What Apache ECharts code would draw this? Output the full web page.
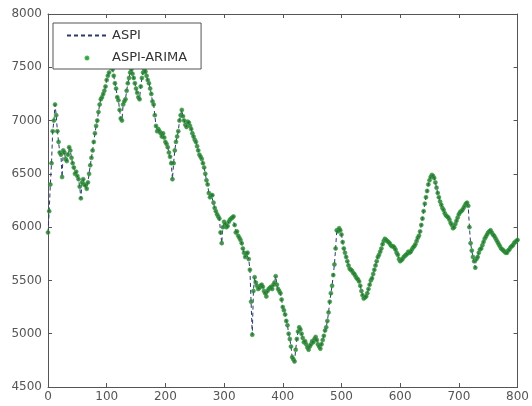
<!DOCTYPE html>
<html>
<head>
<meta charset="utf-8">
<script src="https://cdn.jsdelivr.net/npm/echarts@6/dist/echarts.min.js"></script>
<style>
html,body{margin:0;padding:0;background:#fff;}
#chart{width:532px;height:406px;}
</style>
</head>
<body>
<div id="chart"></div>
<script>
const timeStep = 2;
// ASPI at t = 0, 4, 8, ..., 800
const aspiEven = [
  5950, 6400, 6900, 7150, 6900, 6700, 6470, 6700, 6620, 6750,
  6650, 6560, 6520, 6450, 6270, 6450, 6390, 6420, 6580, 6720,
  6880, 7000, 7150, 7220, 7280, 7380, 7450, 7550, 7420, 7300,
  7190, 7020, 7150, 7200, 7350, 7450, 7440, 7350, 7260, 7200,
  7400, 7480, 7420, 7350, 7250, 7150, 6950, 6920, 6880, 6880,
  6800, 6750, 6660, 6450, 6720, 6850, 7000, 7100, 7000, 6940,
  6980, 6920, 6850, 6800, 6720, 6660, 6600, 6500, 6400, 6280,
  6300, 6180, 6120, 6080, 5850, 6050, 6000, 6050, 6080, 6100,
  5950, 5920, 5880, 5800, 5720, 5760, 5600, 4990, 5530, 5450,
  5430, 5460, 5400, 5350, 5420, 5440, 5460, 5540, 5420, 5380,
  5250, 5180, 5080, 4950, 4780, 4740, 4950, 5060, 5000, 4920,
  4900, 4850, 4900, 4920, 4970, 4900, 4860, 4940, 5030, 5120,
  5300, 5450, 5650, 5970, 5990, 5930, 5800, 5720, 5640, 5600,
  5570, 5540, 5510, 5450, 5360, 5340, 5380, 5460, 5520, 5600,
  5680, 5740, 5800, 5870, 5880, 5860, 5830, 5820, 5790, 5740,
  5680, 5700, 5730, 5750, 5760, 5790, 5820, 5870, 5920, 6020,
  6150, 6280, 6400, 6470, 6480, 6420, 6320, 6240, 6180, 6130,
  6100, 6070, 6020, 6000, 6060, 6120, 6150, 6180, 6220, 6200,
  5850, 5720, 5620, 5720, 5790, 5830, 5890, 5930, 5960, 5950,
  5920, 5880, 5840, 5800, 5780, 5760, 5780, 5810, 5830, 5860,
  5880
];
// ASPI at t = 2, 6, 10, ..., 798
const aspiOdd = [
  6150, 6600, 7000, 7050, 6800, 6680, 6720, 6640, 6680, 6720,
  6600, 6500, 6480, 6380, 6420, 6400, 6360, 6500, 6650, 6800,
  6950, 7080, 7200, 7250, 7320, 7420, 7500, 7480, 7350, 7220,
  7100, 7000, 7180, 7280, 7400, 7480, 7400, 7300, 7220, 7320,
  7450, 7460, 7380, 7300, 7180, 7050, 6900, 6900, 6850, 6840,
  6780, 6700, 6600, 6600, 6800, 6900, 7050, 7040, 6960, 6990,
  6950, 6880, 6820, 6760, 6680, 6640, 6560, 6440, 6320, 6300,
  6230, 6150, 6100, 5950, 6000, 6030, 6010, 6070, 6090, 6020,
  5960, 5900, 5850, 5760, 5750, 5700, 5300, 5400, 5480, 5420,
  5450, 5440, 5380, 5400, 5430, 5420, 5480, 5460, 5400, 5320,
  5220, 5120, 5000, 4880, 4760, 4850, 5020, 5040, 4960, 4930,
  4870, 4880, 4930, 4950, 4940, 4880, 4900, 4980, 5060, 5200,
  5380, 5550, 5800, 5960, 5970, 5860, 5760, 5680, 5610, 5590,
  5560, 5520, 5490, 5400, 5330, 5350, 5420, 5500, 5560, 5640,
  5720, 5770, 5840, 5890, 5870, 5850, 5820, 5810, 5760, 5700,
  5690, 5720, 5740, 5770, 5770, 5810, 5840, 5900, 5960, 6080,
  6220, 6340, 6440, 6490, 6460, 6370, 6280, 6210, 6160, 6110,
  6090, 6040, 5990, 6030, 6090, 6140, 6160, 6200, 6230, 6000,
  5780, 5680, 5700, 5760, 5800, 5860, 5910, 5950, 5970, 5930,
  5900, 5860, 5820, 5790, 5770, 5760, 5790, 5820, 5850, 5870
];
const xTicks = {min: 0, max: 800, interval: 100};
const yTicks = {min: 4500, max: 8000, interval: 500};

// interleave the two sample sets in time order
const aspi = [];
for (let i = 0; i < aspiEven.length; i++) {
  aspi.push(aspiEven[i]);
  if (i < aspiOdd.length) aspi.push(aspiOdd[i]);
}
// ARIMA fitted values (indistinguishable from ASPI in the picture)
const aspiArima = aspi.slice();

const lineData = aspi.map((v, i) => [i * timeStep, v]);
const arimaData = aspiArima.map((v, i) => [i * timeStep, v]);

const axisCol = '#555';
const fontFam = 'DejaVu Sans, Liberation Sans, Arial, sans-serif';
const labelStyle = {color: '#555', fontSize: 12, fontFamily: fontFam};

const chart = echarts.init(document.getElementById('chart'), null, {renderer: 'canvas'});
chart.setOption({
  animation: false,
  backgroundColor: '#fff',
  grid: {left: 48, right: 14, top: 14, bottom: 19, containLabel: false},
  legend: {
    orient: 'vertical',
    left: 53, top: 23,
    padding: [6, 14, 4, 13],
    itemGap: 9,
    itemWidth: 40, itemHeight: 12,
    backgroundColor: '#fff',
    borderColor: '#555', borderWidth: 1,
    textStyle: {color: '#333', fontSize: 13, fontFamily: fontFam},
    data: [
      {name: 'ASPI', itemStyle: {opacity: 0}},
      {name: 'ASPI-ARIMA', icon: 'path://M0,0M40,12M18.5,6a1.5,1.5 0 1,0 3,0a1.5,1.5 0 1,0 -3,0z'}
    ]
  },
  xAxis: [{
    type: 'value', min: xTicks.min, max: xTicks.max, interval: xTicks.interval,
    axisLine: {show: true, onZero: false, lineStyle: {color: axisCol, width: 1}},
    axisTick: {show: true, inside: true, length: 4, lineStyle: {color: axisCol}},
    axisLabel: Object.assign({margin: 4, formatter: v => String(v)}, labelStyle),
    splitLine: {show: false}
  }, {
    type: 'value', position: 'top', min: xTicks.min, max: xTicks.max, interval: xTicks.interval,
    axisLine: {show: true, onZero: false, lineStyle: {color: axisCol, width: 1}},
    axisTick: {show: true, inside: true, length: 4, lineStyle: {color: axisCol}},
    axisLabel: {show: false}, splitLine: {show: false}
  }],
  yAxis: [{
    type: 'value', min: yTicks.min, max: yTicks.max, interval: yTicks.interval,
    axisLine: {show: true, onZero: false, lineStyle: {color: axisCol, width: 1}},
    axisTick: {show: true, inside: true, length: 4, lineStyle: {color: axisCol}},
    axisLabel: Object.assign({margin: 6, formatter: v => String(v)}, labelStyle),
    splitLine: {show: false}
  }, {
    type: 'value', position: 'right', min: yTicks.min, max: yTicks.max, interval: yTicks.interval,
    axisLine: {show: true, onZero: false, lineStyle: {color: axisCol, width: 1}},
    axisTick: {show: true, inside: true, length: 4, lineStyle: {color: axisCol}},
    axisLabel: {show: false}, splitLine: {show: false}
  }],
  series: [{
    name: 'ASPI',
    type: 'line',
    data: lineData,
    symbol: 'none',
    z: 2,
    lineStyle: {color: '#2a3a6a', width: 1, type: [4, 3]},
    itemStyle: {color: '#2a3a6a'}
  }, {
    name: 'ASPI-ARIMA',
    type: 'scatter',
    data: arimaData,
    symbol: 'circle',
    symbolSize: 4,
    z: 3,
    itemStyle: {color: '#2d6a35', borderColor: '#2aa838', borderWidth: 0.8}
  }]
});
</script>
</body>
</html>
